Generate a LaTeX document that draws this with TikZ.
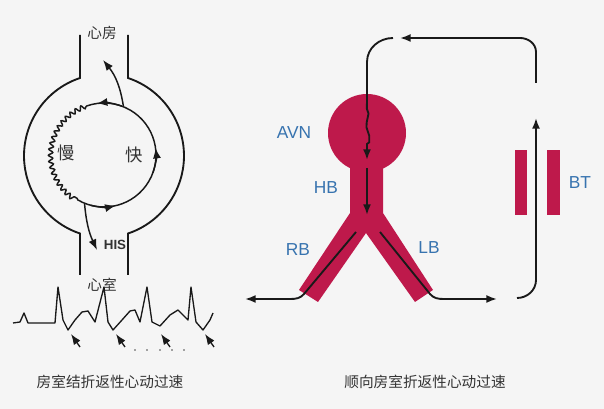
\documentclass[tikz,border=0pt]{standalone}
\usepackage{fontspec}
\setmainfont{Liberation Sans}
\newfontfamily\cjk{Noto Sans CJK SC}
\usetikzlibrary{arrows.meta,decorations.pathmorphing,calc}
\definecolor{crim}{RGB}{190,25,75}
\definecolor{lblue}{RGB}{55,115,175}
\tikzset{ln/.style={line width=1.4pt,black!90},
 arr/.style={ln,-{Latex[length=8pt,width=6pt]}},
 blab/.style={text=lblue,font=\fontsize{13}{13}\selectfont},
 zhcap/.style={font=\cjk\fontsize{11}{11}\selectfont,text=black!80}}
\begin{document}
\begin{tikzpicture}[x=0.75pt,y=-0.75pt]
\useasboundingbox[fill=black!4] (0,0) rectangle (604,409);
% left diagram
\draw[ln] (80,35) -- (80,78) arc[start angle=-108.5,end angle=-251.5,radius=82] -- (80,275);
\draw[ln] (128,35) -- (128,78) arc[start angle=-71.5,end angle=71.5,radius=82] -- (128,275);
\node[zhcap] (atr) at (102,33) {心房};
\node[zhcap] (ven) at (102,285) {心室};
\coordinate (c) at (104,155);
\draw[ln,line width=1.1pt,decorate,decoration={snake,amplitude=1.6pt,segment length=4.5pt}] ($(c)+(-110:52)$) arc[start angle=-110,end angle=-240,radius=52];
\draw[ln,line width=1.1pt] ($(c)+(-240:52)$) arc[start angle=-240,end angle=-470,radius=52];
\draw[arr,line width=1.1pt] ($(c)+(-70:52)$) arc[start angle=-70,end angle=-98,radius=52];
\draw[arr,line width=1.1pt] ($(c)+(20:52)$) arc[start angle=20,end angle=-8,radius=52];
\draw[arr,line width=1.1pt] ($(c)+(-255:52)$) arc[start angle=-255,end angle=-283,radius=52];
\draw[arr,line width=1.1pt] ($(c)+(-68:52)$) to[bend right=15] (103,60);
\draw[arr,line width=1.1pt] ($(c)+(-248:52)$) to[bend right=10] (97,250);
\node[font=\bfseries\fontsize{10}{10}\selectfont,text=black!80] (his) at (115,245) {HIS};
\node[zhcap,font=\cjk\fontsize{13}{13}\selectfont] (slow) at (66,153) {慢};
\node[zhcap,font=\cjk\fontsize{13}{13}\selectfont] (fast) at (134,155) {快};
\draw[ln,line width=1pt,line join=round] (13,323) -- (20,322) -- (24,313) -- (28,323) -- (55,323) -- (58,287) -- (63,320) -- (68,330) -- (75,320) -- (82,312) -- (88,311) -- (95,322) -- (104,287) -- (108,322) -- (113,330) -- (122,320) -- (130,311) -- (135,310) -- (140,322) -- (147,287) -- (152,322) -- (160,326) -- (170,315) -- (178,310) -- (188,320) -- (191,287) -- (196,322) -- (203,330) -- (210,320) -- (213,313);
\foreach \x in {80,125,170,214} \draw[arr,line width=1pt] (\x,347) -- (\x-9,334);
\foreach \x in {135,147,160,172,184} \fill[black!70] (\x,350) circle (0.8);
\node[zhcap] (cap1) at (110,382) {房室结折返性心动过速};
% right diagram
\fill[crim] (367,133) circle (39);
\fill[crim] (350,150) -- (350,213) -- (299,290) -- (318,302) -- (366,233) -- (415,302) -- (433,290) -- (383,213) -- (383,150) -- cycle;
\fill[crim] (515,150) rectangle (527,215);
\fill[crim] (547,150) rectangle (560,215);
\node[blab] (avn) at (294,133) {AVN};
\node[blab] (hb) at (326,188) {HB};
\node[blab] (rb) at (298,250) {RB};
\node[blab] (lb) at (429,248) {LB};
\node[blab] (bt) at (580,183) {BT};
\draw[arr] (536,83) -- (536,52) to[out=90,in=0] (520,38) -- (400,38);
\draw[ln] (393,38) to[out=180,in=90] (367,62) -- (367,100);
\draw[arr,decorate,decoration={random steps,segment length=5pt,amplitude=2pt,post length=12pt}] (367,100) -- (367,160);
\draw[arr] (367,168) -- (367,215);
\draw[arr] (356,232) -- (304,294) to[out=-130,in=0] (290,299) -- (245,299);
\draw[arr] (380,232) -- (430,294) to[out=-50,in=180] (444,299) -- (497,299);
\draw[arr] (517,298) to[out=0,in=-90] (536,280) -- (536,118);
\node[zhcap] (cap2) at (425,382) {顺向房室折返性心动过速};
\end{tikzpicture}
\end{document}
